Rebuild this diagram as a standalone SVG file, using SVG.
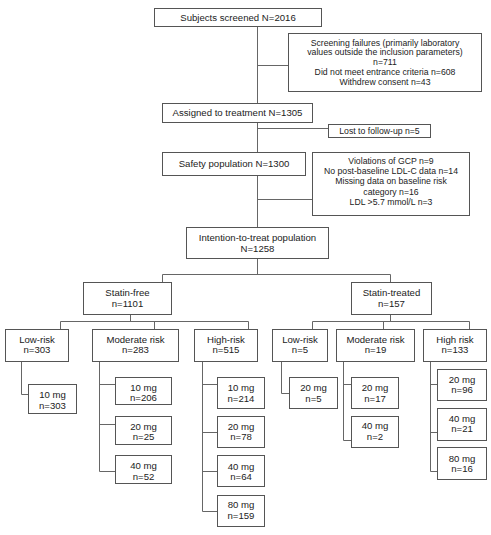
<svg xmlns="http://www.w3.org/2000/svg" width="491" height="535" viewBox="0 0 491 535">
<style>
.b rect{fill:#fff;stroke:#555;stroke-width:1}
.b text{font-family:"Liberation Sans",Arial,sans-serif;font-size:9.6px;fill:#222;text-anchor:middle}
.b text.s{font-size:8.7px}
#connectors path{fill:none;stroke:#666;stroke-width:1}
</style>
<rect width="491" height="535" fill="#fff"/>
<g id="connectors">
<path d="M257.5 26.5V103.5M257.5 122.5V152.5M257.5 175.5V227.5"/>
<path d="M257.5 65.5H288.5M257.5 128.5H328.5M257.5 199.5H312.5"/>
<path d="M257.5 258.5V274.5M162.5 282.5V274.5H390.5V282.5"/>
<path d="M130.5 314.5V321.5M60.5 329.5V321.5H248.5V329.5M154.5 321.5V329.5"/>
<path d="M390.5 314.5V321.5M312.5 329.5V321.5H469.5V329.5M383.5 321.5V329.5"/>
<path d="M21.5 361.5V394.5H28.5"/>
<path d="M99.5 361.5V471.5H115.5M99.5 384.5H115.5M99.5 424.5H115.5"/>
<path d="M202.5 361.5V511.5H217.5M202.5 384.5H217.5M202.5 432.5H217.5M202.5 471.5H217.5"/>
<path d="M281.5 361.5V393.5H289.5"/>
<path d="M343.5 361.5V440.5H351.5M343.5 384.5H351.5"/>
<path d="M430.5 361.5V471.5H437.5M430.5 384.5H437.5M430.5 432.5H437.5"/>
</g>
<g id="screened" class="b"><rect x="154.5" y="8.5" width="167" height="18"/><text x="238" y="20.8">Subjects screened N=2016</text></g>
<g id="screenfail" class="b"><rect x="288.5" y="33.5" width="193" height="58"/>
<text class="s" x="385" y="45.5">Screening failures (primarily laboratory</text>
<text class="s" x="385" y="55.3">values outside the inclusion parameters)</text>
<text class="s" x="385" y="65.1">n=711</text>
<text class="s" x="385" y="74.9">Did not meet entrance criteria n=608</text>
<text class="s" x="385" y="84.7">Withdrew consent n=43</text></g>
<g id="assigned" class="b"><rect x="162.5" y="103.5" width="150" height="19"/><text x="237.5" y="116.3">Assigned to treatment N=1305</text></g>
<g id="lost" class="b"><rect x="328.5" y="124.5" width="102" height="13"/><text class="s" x="379.5" y="133.8">Lost to follow-up n=5</text></g>
<g id="safety" class="b"><rect x="162.5" y="152.5" width="143" height="23"/><text x="234" y="166.5">Safety population N=1300</text></g>
<g id="violations" class="b"><rect x="312.5" y="152.5" width="157" height="63"/>
<text class="s" x="391" y="164">Violations of GCP n=9</text>
<text class="s" x="391" y="174.2">No post-baseline LDL-C data n=14</text>
<text class="s" x="391" y="184.4">Missing data on baseline risk</text>
<text class="s" x="391" y="194.6">category n=16</text>
<text class="s" x="391" y="204.8">LDL &gt;5.7 mmol/L n=3</text></g>
<g id="itt" class="b"><rect x="186.5" y="227.5" width="142" height="31"/><text x="257.5" y="240.5">Intention-to-treat population</text><text x="257.5" y="251.5">N=1258</text></g>
<g id="statinfree" class="b"><rect x="83.5" y="282.5" width="88" height="32"/><text x="127.5" y="295.5">Statin-free</text><text x="127.5" y="306.5">n=1101</text></g>
<g id="statintreated" class="b"><rect x="351.5" y="282.5" width="80" height="32"/><text x="391.5" y="295.5">Statin-treated</text><text x="391.5" y="306.5">n=157</text></g>
<g id="f-low" class="b"><rect x="5.5" y="329.5" width="63" height="32"/><text x="37" y="342.5">Low-risk</text><text x="37" y="353">n=303</text></g>
<g id="f-mod" class="b"><rect x="92.5" y="329.5" width="86" height="32"/><text x="135.5" y="342.5">Moderate risk</text><text x="135.5" y="353">n=283</text></g>
<g id="f-high" class="b"><rect x="194.5" y="329.5" width="63" height="32"/><text x="226" y="342.5">High-risk</text><text x="226" y="353">n=515</text></g>
<g id="t-low" class="b"><rect x="272.5" y="329.5" width="55" height="32"/><text x="300" y="342.5">Low-risk</text><text x="300" y="353">n=5</text></g>
<g id="t-mod" class="b"><rect x="336.5" y="329.5" width="78" height="32"/><text x="375.5" y="342.5">Moderate risk</text><text x="375.5" y="353">n=19</text></g>
<g id="t-high" class="b"><rect x="423.5" y="329.5" width="63" height="32"/><text x="455" y="342.5">High risk</text><text x="455" y="353">n=133</text></g>
<g id="fl10" class="b"><rect x="28.5" y="384.5" width="48" height="29"/><text x="52.5" y="397.5">10 mg</text><text x="52.5" y="408.5">n=303</text></g>
<g id="fm10" class="b"><rect x="115.5" y="377.5" width="56" height="27"/><text x="143.5" y="390.5">10 mg</text><text x="143.5" y="401">n=206</text></g>
<g id="fm20" class="b"><rect x="115.5" y="416.5" width="56" height="28"/><text x="143.5" y="429.5">20 mg</text><text x="143.5" y="440">n=25</text></g>
<g id="fm40" class="b"><rect x="115.5" y="455.5" width="56" height="28"/><text x="143.5" y="469">40 mg</text><text x="143.5" y="479.5">n=52</text></g>
<g id="fh10" class="b"><rect x="217.5" y="377.5" width="47" height="31"/><text x="241" y="390.5">10 mg</text><text x="241" y="401.5">n=214</text></g>
<g id="fh20" class="b"><rect x="217.5" y="416.5" width="47" height="31"/><text x="241" y="429.5">20 mg</text><text x="241" y="440">n=78</text></g>
<g id="fh40" class="b"><rect x="217.5" y="455.5" width="47" height="31"/><text x="241" y="469.5">40 mg</text><text x="241" y="479.5">n=64</text></g>
<g id="fh80" class="b"><rect x="217.5" y="495.5" width="47" height="31"/><text x="241" y="507.5">80 mg</text><text x="241" y="518.5">n=159</text></g>
<g id="tl20" class="b"><rect x="289.5" y="377.5" width="48" height="31"/><text x="313.5" y="390.5">20 mg</text><text x="313.5" y="401.5">n=5</text></g>
<g id="tm20" class="b"><rect x="351.5" y="377.5" width="47" height="31"/><text x="375" y="390.5">20 mg</text><text x="375" y="401.5">n=17</text></g>
<g id="tm40" class="b"><rect x="351.5" y="416.5" width="47" height="31"/><text x="375" y="428.5">40 mg</text><text x="375" y="440">n=2</text></g>
<g id="th20" class="b"><rect x="437.5" y="369.5" width="49" height="31"/><text x="462" y="382.5">20 mg</text><text x="462" y="393">n=96</text></g>
<g id="th40" class="b"><rect x="437.5" y="408.5" width="49" height="32"/><text x="462" y="421.5">40 mg</text><text x="462" y="431.5">n=21</text></g>
<g id="th80" class="b"><rect x="437.5" y="447.5" width="49" height="32"/><text x="462" y="461.5">80 mg</text><text x="462" y="472">n=16</text></g>
</svg>
